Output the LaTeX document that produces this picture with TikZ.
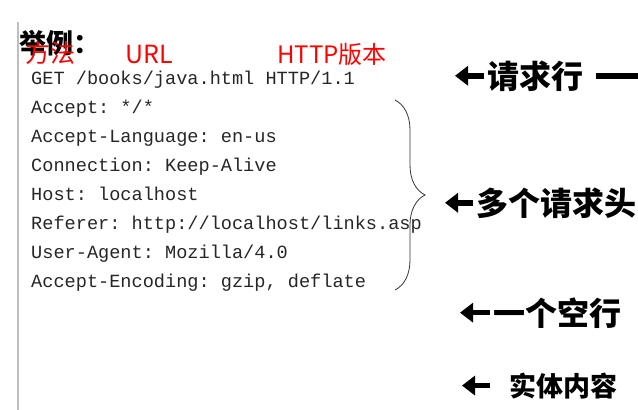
\documentclass[tikz,border=0pt]{standalone}
\usepackage{fontspec}
\setmonofont{Liberation Mono}
\newfontfamily\cjk{Noto Sans CJK SC}
\usetikzlibrary{arrows.meta,decorations.pathreplacing}

\begin{document}
\begin{tikzpicture}[x=1pt,y=-1pt,
  code/.style={anchor=base west,inner sep=0pt,text=black!85,
    font=\ttfamily\fontsize{18.6}{20}\selectfont},
  redlabel/.style={anchor=base west,inner sep=0pt,text=red,
    font=\cjk\fontsize{25}{28}\selectfont},
  part/.style={anchor=base west,inner sep=0pt,
    font=\cjk\bfseries\fontsize{32}{36}\selectfont},
  fatarrow/.style={line width=5.5pt,shorten <=3pt,
    -{Triangle[length=13pt,width=19pt]}}]
\useasboundingbox (0,0) rectangle (638,410);
\draw[black!25,line width=1.5pt] (18,22) -- (18,410);
% title and red marks
\node[anchor=base west,inner sep=0pt,font=\cjk\bfseries\fontsize{27}{29}\selectfont] (title) at (19,53) {举例：};
\node[redlabel] (mth) at (25,62) {方法};
\node[redlabel] (url) at (125,63) {URL};
\node[redlabel,font=\cjk\fontsize{24}{28}\selectfont] (ver) at (277,63) {HTTP版本};
% request
\foreach \i/\txt in {0/{GET /books/java.html HTTP/1.1},
  1/{Accept: */*},
  2/{Accept-Language: en-us},
  3/{Connection: Keep-Alive},
  4/{Host: localhost},
  5/{Referer: http://localhost/links.asp},
  6/{User-Agent: Mozilla/4.0},
  7/{Accept-Encoding: gzip, deflate}}
  \node[code] (l\i) at (31,84+29*\i) {\txt};
\draw[black!80,line width=0.8pt,decorate,decoration={brace,amplitude=30pt}]
  (395,100) -- (395,290) coordinate[pos=0.5] (bmid);
% parts
\node[part] (reqline) at (487,88) {请求行};
\node[part] (headers) at (476,215) {多个请求头};
\node[part] (blank) at (493,325) {一个空行};
\node[part,font=\cjk\bfseries\fontsize{27}{30}\selectfont] (body) at (509,396) {实体内容};
\coordinate (t1) at (455,0);
\coordinate (t2) at (445,0);
\coordinate (t3) at (460,0);
\coordinate (t4) at (462,0);
\draw[fatarrow] (reqline.west) -- (t1 |- reqline.west);
\draw[fatarrow] (headers.west) -- (t2 |- headers.west);
\draw[fatarrow] (blank.west) -- (t3 |- blank.west);
\draw[fatarrow,shorten <=19pt] (body.west) -- (t4 |- body.west);
\coordinate (dashend) at (640,0);
\draw[line width=6pt] (reqline.east) ++(13pt,0) -- (dashend |- reqline.east);
\end{tikzpicture}
\end{document}
